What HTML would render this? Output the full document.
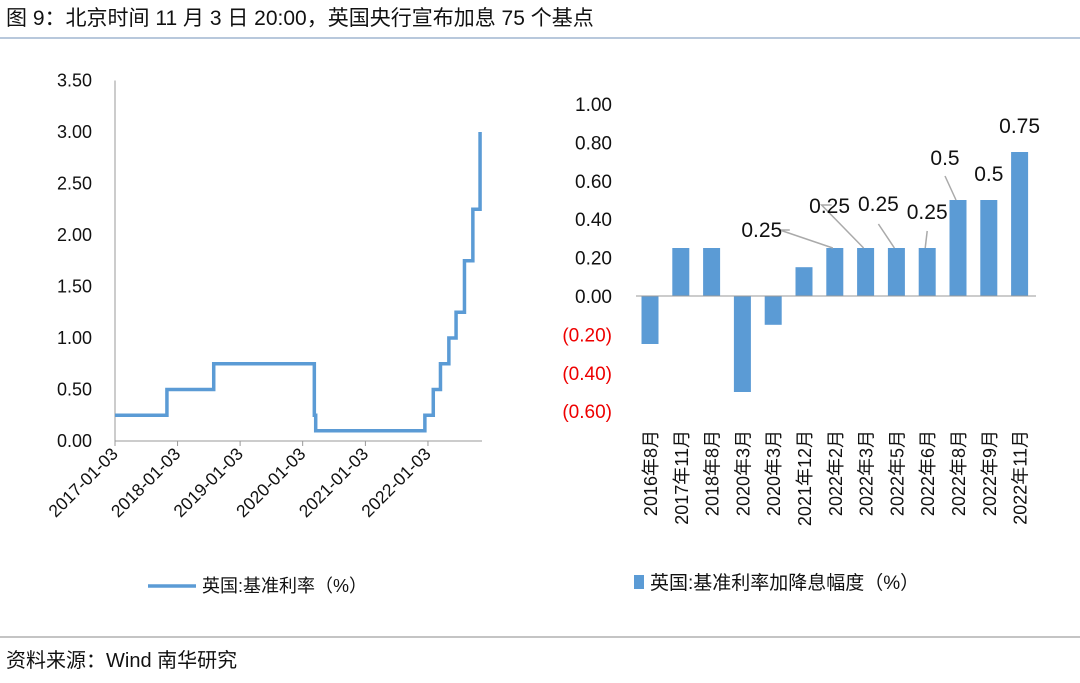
<!DOCTYPE html>
<html><head><meta charset="utf-8"><style>
body{margin:0;width:1080px;height:678px;background:#fff;font-family:"Liberation Sans","Noto Sans CJK SC",sans-serif;overflow:hidden}
svg text{font-family:"Liberation Sans","Noto Sans CJK SC",sans-serif}
</style></head><body>
<svg width="1080" height="678">
<text x="6" y="25" font-size="21" font-family="Liberation Mono,Noto Sans CJK SC,monospace" fill="#111">图 9：北京时间 11 月 3 日 20:00，英国央行宣布加息 75 个基点</text>
<line x1="0" y1="38" x2="1080" y2="38" stroke="#b8c8dc" stroke-width="2"/>
<line x1="0" y1="637" x2="1080" y2="637" stroke="#888" stroke-width="1"/>
<text x="6" y="667" font-size="20" font-family="Liberation Mono,Noto Sans CJK SC,monospace" fill="#111">资料来源：Wind 南华研究</text>
<g id="left"></g>
<g id="right"></g>
</svg>
<script>
const NS="http://www.w3.org/2000/svg";
function mk(p,t,a){const e=document.createElementNS(NS,t);for(const k in a)e.setAttribute(k,a[k]);p.appendChild(e);return e;}
const stepDates=["2017-01-03","2017-11-02","2018-08-02","2020-03-11","2020-03-19","2021-12-16","2022-02-03","2022-03-17","2022-05-05","2022-06-16","2022-08-04","2022-09-22","2022-11-03"];
const stepRates=[0.25,0.5,0.75,0.25,0.1,0.25,0.5,0.75,1.0,1.25,1.75,2.25,3.0];
const leftTicks=[0,0.5,1,1.5,2,2.5,3,3.5];
const xTickLabels=["2017-01-03","2018-01-03","2019-01-03","2020-01-03","2021-01-03","2022-01-03"];
const cats=["2016年8月","2017年11月","2018年8月","2020年3月","2020年3月","2021年12月","2022年2月","2022年3月","2022年5月","2022年6月","2022年8月","2022年9月","2022年11月"];
const changes=[-0.25,0.25,0.25,-0.5,-0.15,0.15,0.25,0.25,0.25,0.25,0.5,0.5,0.75];
const rightTicks=[-0.6,-0.4,-0.2,0,0.2,0.4,0.6,0.8,1.0];
const barLabels=[null,null,null,null,null,null,"0.25","0.25","0.25","0.25","0.5","0.5","0.75"];

const L=document.getElementById('left');
const t0=Date.parse("2017-01-03");
const dx=d=>115+(Date.parse(d)-t0)/(365.25*864e5)*62.6;
const ly=v=>441-v*103;
leftTicks.forEach(v=>{const t=mk(L,'text',{x:92,y:ly(v)+6,'font-size':18,'text-anchor':'end',fill:'#111'});t.textContent=v.toFixed(2);
});
mk(L,'line',{x1:115,y1:ly(3.5),x2:115,y2:441,stroke:'#999'});
mk(L,'line',{x1:115,y1:441,x2:482,y2:441,stroke:'#999'});
xTickLabels.forEach(d=>{const x=dx(d);mk(L,'line',{x1:x,y1:441,x2:x,y2:446,stroke:'#999'});
const t=mk(L,'text',{x:x+4,y:455,'font-size':17.5,'text-anchor':'end',fill:'#111',transform:`rotate(-45 ${x+4} 455)`});t.textContent=d;
});
let pts=[];stepDates.forEach((d,i)=>{const x=dx(d);if(i>0)pts.push([x,ly(stepRates[i-1])]);pts.push([x,ly(stepRates[i])]);});
const pl=mk(L,'polyline',{points:pts.map(p=>p.join(',')).join(' '),fill:'none',stroke:'#5b9bd5','stroke-width':3.5});

mk(L,'line',{x1:148,y1:586,x2:196,y2:586,stroke:'#5b9bd5','stroke-width':3.5});
const lt=mk(L,'text',{x:202,y:592,'font-size':18,fill:'#111'});lt.textContent="英国:基准利率（%）";

const R=document.getElementById('right');
const ry=v=>296-v*192;
const bx=i=>650+i*30.8;
rightTicks.forEach(v=>{const t=mk(R,'text',{x:612,y:ry(v)+7,'font-size':19,'text-anchor':'end',fill:v<0?'#e00':'#111'});
t.textContent=v<0?`(${(-v).toFixed(2)})`:v.toFixed(2);});
changes.forEach((v,i)=>{const y0=ry(Math.max(v,0)),h=Math.abs(ry(v)-ry(0));
const b=mk(R,'rect',{x:bx(i)-8.5,y:y0,width:17,height:h,fill:'#5b9bd5'});
const t=mk(R,'text',{x:bx(i)+7,y:430,'font-size':18,'text-anchor':'end',fill:'#111',transform:`rotate(-90 ${bx(i)+7} 430)`});t.textContent=cats[i];
});
mk(R,'line',{x1:636,y1:296,x2:1036,y2:296,stroke:'#999'});
// label offsets relative to bar top (x offset, y offset) and leader start offset
const off=[null,null,null,null,null,null,[-73,-11,[-55,-18,-45]],[-36,-35,[-44,-43,-34]],[-18,-37,[-18,-24,null]],[0,-29,[0,-17,null]],[-13,-35,[-13,-24,null]],[0,-19,null],[0,-19,null]];
barLabels.forEach((s,i)=>{if(!s)return;const o=off[i];const x=bx(i),y=ry(changes[i]);
if(o[2]){const q=o[2];let d=`M${x+q[0]},${y+q[1]} L${x-2},${y}`;if(q[2]!==null)d=`M${x+q[2]},${y+q[1]} `+d.replace('M','L');
mk(R,'path',{d:d,fill:'none',stroke:'#aaa','stroke-width':1.5});}
const t=mk(R,'text',{x:x+o[0],y:y+o[1],'font-size':21,'text-anchor':'middle',fill:'#111'});t.textContent=s;
});
mk(R,'rect',{x:634,y:575,width:10,height:14,fill:'#5b9bd5'});
const rt=mk(R,'text',{x:650,y:589,'font-size':19,fill:'#111'});rt.textContent="英国:基准利率加降息幅度（%）";
</script>
</body></html>
